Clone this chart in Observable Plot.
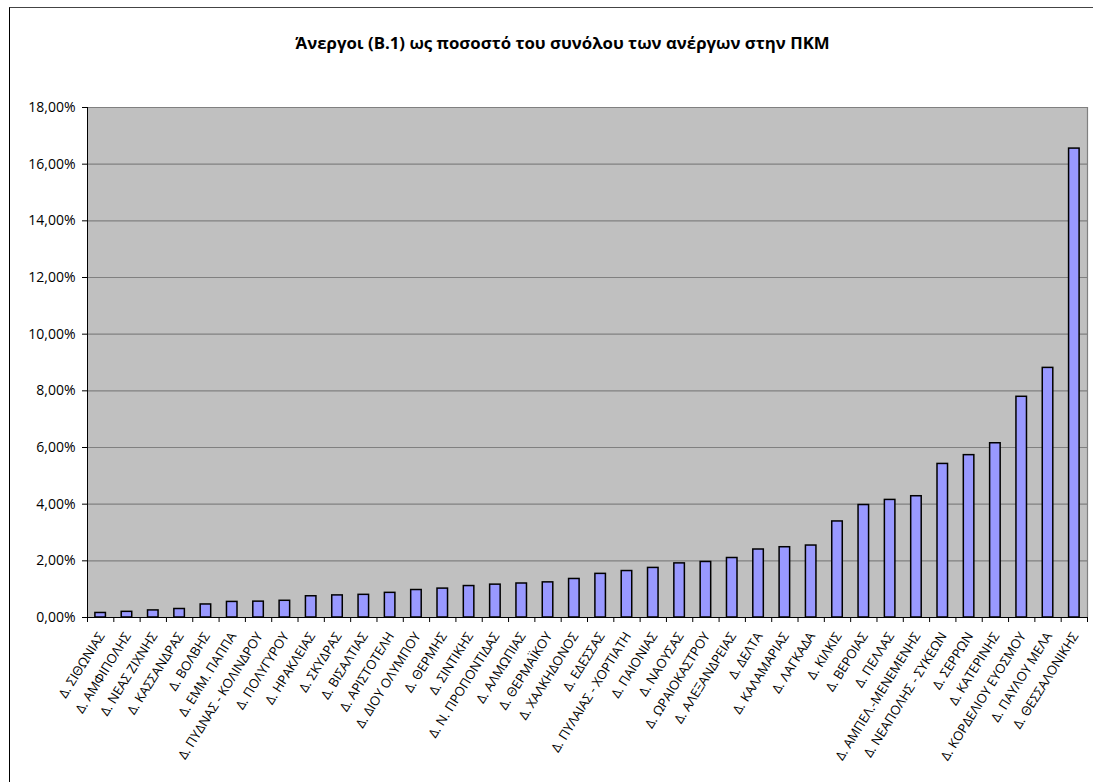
<!DOCTYPE html>
<html>
<head>
<meta charset="utf-8">
<script src="https://cdn.jsdelivr.net/npm/d3@7"></script>
<script src="https://cdn.jsdelivr.net/npm/@observablehq/plot@0.6"></script>
<style>
  html, body { margin: 0; padding: 0; background: #fff; }
  #chart { position: relative; width: 1093px; height: 782px; overflow: hidden; background: #fff; }
  #border { position: absolute; left: 9px; top: 7px; right: -5px; bottom: -5px; border-left: 1px solid #000; border-top: 1px solid #444; }
  #title { position: absolute; left: 32px; top: 31px; width: 1061px; text-align: center;
           font-family: "Open Sans", sans-serif; font-weight: bold; font-size: 16.8px; color: #000; }
  #chart svg { position: absolute; left: 0; top: 0; }
</style>
</head>
<body>
<div id="chart">
  <div id="border"></div>
  <div id="title">Άνεργοι (Β.1) ως ποσοστό του συνόλου των ανέργων στην ΠΚΜ</div>
</div>
<script>
// Municipalities of Central Macedonia, sorted by share of the region's unemployed
const municipalities = [
  "Δ. ΣΙΘΩΝΙΑΣ", "Δ. ΑΜΦΙΠΟΛΗΣ", "Δ. ΝΕΑΣ ΖΙΧΝΗΣ", "Δ. ΚΑΣΣΑΝΔΡΑΣ", "Δ. ΒΟΛΒΗΣ",
  "Δ. ΕΜΜ. ΠΑΠΠΑ", "Δ. ΠΥΔΝΑΣ - ΚΟΛΙΝΔΡΟΥ", "Δ. ΠΟΛΥΓΥΡΟΥ", "Δ. ΗΡΑΚΛΕΙΑΣ", "Δ. ΣΚΥΔΡΑΣ",
  "Δ. ΒΙΣΑΛΤΙΑΣ", "Δ. ΑΡΙΣΤΟΤΕΛΗ", "Δ. ΔΙΟΥ ΟΛΥΜΠΟΥ", "Δ. ΘΕΡΜΗΣ", "Δ. ΣΙΝΤΙΚΗΣ",
  "Δ. Ν. ΠΡΟΠΟΝΤΙΔΑΣ", "Δ. ΑΛΜΩΠΙΑΣ", "Δ. ΘΕΡΜΑΪΚΟΥ", "Δ. ΧΑΛΚΗΔΟΝΟΣ", "Δ. ΕΔΕΣΣΑΣ",
  "Δ. ΠΥΛΑΙΑΣ - ΧΟΡΤΙΑΤΗ", "Δ. ΠΑΙΟΝΙΑΣ", "Δ. ΝΑΟΥΣΑΣ", "Δ. ΩΡΑΙΟΚΑΣΤΡΟΥ", "Δ. ΑΛΕΞΑΝΔΡΕΙΑΣ",
  "Δ. ΔΕΛΤΑ", "Δ. ΚΑΛΑΜΑΡΙΑΣ", "Δ. ΛΑΓΚΑΔΑ", "Δ. ΚΙΛΚΙΣ", "Δ. ΒΕΡΟΙΑΣ",
  "Δ. ΠΕΛΛΑΣ", "Δ. ΑΜΠΕΛ.-ΜΕΝΕΜΕΝΗΣ", "Δ. ΝΕΑΠΟΛΗΣ - ΣΥΚΕΩΝ", "Δ. ΣΕΡΡΩΝ", "Δ. ΚΑΤΕΡΙΝΗΣ",
  "Δ. ΚΟΡΔΕΛΙΟΥ ΕΥΟΣΜΟΥ", "Δ. ΠΑΥΛΟΥ ΜΕΛΑ", "Δ. ΘΕΣΣΑΛΟΝΙΚΗΣ"
];

// Share of all unemployed (B.1) in the region, in percent
const sharePercent = [
  0.16, 0.20, 0.25, 0.30, 0.46,
  0.55, 0.56, 0.59, 0.75, 0.78,
  0.80, 0.87, 0.97, 1.02, 1.11,
  1.16, 1.20, 1.24, 1.36, 1.54,
  1.64, 1.75, 1.91, 1.96, 2.10,
  2.40, 2.48, 2.54, 3.39, 3.97,
  4.15, 4.28, 5.42, 5.73, 6.15,
  7.79, 8.81, 16.55
];

// Value axis ticks, in percent
const percentTicks = [0, 2, 4, 6, 8, 10, 12, 14, 16, 18];

const n = municipalities.length;
const rows = municipalities.map((name, i) => ({index: i, name, share: sharePercent[i]}));
const pct = (v) => d3.format(".2f")(v).replace(".", ",") + "%";

// Each municipality owns one slot [i, i+1]; the bar fills the middle 40% of it
const chart = Plot.plot({
  width: 1093,
  height: 782,
  marginLeft: 87,
  marginRight: 6,
  marginTop: 107,
  marginBottom: 165,
  style: {background: "transparent", fontFamily: "Open Sans, sans-serif", color: "#000"},
  x: {domain: [0, n], axis: null},
  y: {domain: [0, 18], axis: null},
  marks: [
    Plot.frame({fill: "#c0c0c0", stroke: null}),
    Plot.ruleY(percentTicks.filter((t) => t > 0), {stroke: "#808080", strokeWidth: 1.2}),
    Plot.ruleX([n], {stroke: "#808080", strokeWidth: 1.2}),
    Plot.rectY(rows, {x1: (d) => d.index + 0.3, x2: (d) => d.index + 0.7, y: "share",
                      fill: "#9999ff", stroke: "#000", strokeWidth: 1.5}),
    Plot.ruleY([0], {stroke: "#000"}),
    Plot.ruleX([0], {stroke: "#000"}),
    Plot.axisY({ticks: percentTicks, tickSize: 5, tickPadding: 7, tickFormat: pct,
                fontSize: 14, stroke: "#000", label: null}),
    // category ticks sit on the boundaries between bars
    Plot.axisX({ticks: d3.range(n + 1), tickSize: 5, tickFormat: () => "", stroke: "#000", label: null}),
    // slanted municipality names under each bar
    Plot.text(rows, {x: (d) => d.index + 0.5, frameAnchor: "bottom", text: "name",
                     rotate: -58, textAnchor: "end", lineAnchor: "middle",
                     dx: 1, dy: 16, fontSize: 13, fill: "#000"})
  ]
});

document.getElementById("chart").appendChild(chart);
</script>
</body>
</html>
